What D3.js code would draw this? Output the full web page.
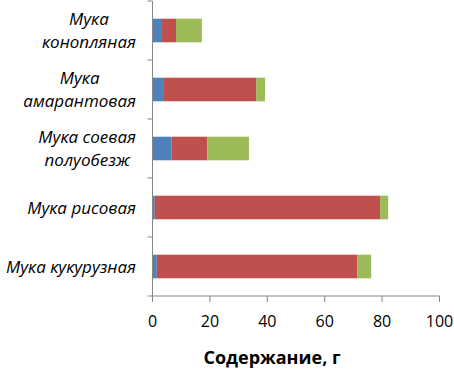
<!DOCTYPE html>
<html>
<head>
<meta charset="utf-8">
<script src="https://cdn.jsdelivr.net/npm/d3@7"></script>
<style>
  body { margin: 0; background: #fff; }
  .cat-label { font-family: 'Open Sans', sans-serif; font-style: italic; font-size: 17px; fill: #000; }
  .tick-label { font-family: 'Open Sans', sans-serif; font-size: 16px; fill: #000; }
  .axis-title { font-family: 'Open Sans', sans-serif; font-weight: bold; font-size: 18px; fill: #000; }
</style>
</head>
<body>
<div id="chart"></div>
<script>
const width = 454, height = 371;
const margin = { top: 1, bottom: 75, left: 152.5, right: 15 };

// categories listed top to bottom
const categories = [
    ['Мука', 'конопляная'],
    ['Мука', 'амарантовая'],
    ['Мука соевая', 'полуобезж'],
    ['Мука рисовая'],
    ['Мука кукурузная']
];
const seriesBlue  = [3.3, 3.7, 6.7, 0.8, 1.5];
const seriesRed   = [4.9, 32.4, 12.4, 78.5, 69.8];
const seriesGreen = [9.0, 3.1, 14.5, 2.8, 4.9];
const xTicks = [0, 20, 40, 60, 80, 100];
const colors = ['#4F81BD', '#C0504D', '#9BBB59'];
const axisTitle = 'Содержание, г';

const graph_width = 439.5 - margin.left;
const graph_height = 296 - margin.top;

const xScale = d3.scaleLinear().domain([0, 100]).range([0, graph_width]);
const yScale = d3.scaleBand().domain(d3.range(categories.length)).range([0, graph_height])
    .paddingInner(0.6).paddingOuter(0.3);

const rows = categories.map((c, i) => ({ i: i, b: seriesBlue[i], r: seriesRed[i], g: seriesGreen[i] }));
const stack = d3.stack().keys(['b', 'r', 'g'])(rows);

const svg = d3.select('#chart').append('svg')
    .attr('width', width).attr('height', height);

const plot = svg.append('g')
    .attr('transform', 'translate(' + margin.left + ',' + margin.top + ')');

stack.forEach((layer, k) => {
    plot.selectAll('.bar' + k)
        .data(layer)
        .enter()
        .append('rect')
        .attr('x', d => xScale(d[0]))
        .attr('width', d => xScale(d[1]) - xScale(d[0]))
        .attr('y', d => yScale(d.data.i))
        .attr('height', yScale.bandwidth())
        .attr('fill', colors[k]);
});

// axes
const axisColor = '#868686';
plot.append('line')
    .attr('x1', 0).attr('x2', 0).attr('y1', 0).attr('y2', graph_height)
    .attr('stroke', axisColor);
plot.append('line')
    .attr('x1', 0).attr('x2', graph_width).attr('y1', graph_height).attr('y2', graph_height)
    .attr('stroke', axisColor);

// category boundary ticks
const step = graph_height / categories.length;
d3.range(categories.length + 1).forEach(j => {
    plot.append('line')
        .attr('x1', -5).attr('x2', 0)
        .attr('y1', j * step).attr('y2', j * step)
        .attr('stroke', axisColor);
});

xTicks.forEach(t => {
    plot.append('line')
        .attr('x1', xScale(t)).attr('x2', xScale(t))
        .attr('y1', graph_height).attr('y2', graph_height + 6)
        .attr('stroke', axisColor);
    plot.append('text')
        .attr('class', 'tick-label')
        .attr('x', xScale(t))
        .attr('y', graph_height + 31)
        .attr('text-anchor', 'middle')
        .text(t);
});

// category labels
const labelRight = 136;
categories.forEach((lines, i) => {
    const cy = margin.top + yScale(i) + yScale.bandwidth() / 2;
    const g = svg.append('g');
    const texts = lines.map((ln, k) => g.append('text')
        .attr('class', 'cat-label')
        .attr('y', cy + 6 + (k - (lines.length - 1) / 2) * 23.5)
        .attr('text-anchor', 'middle')
        .text(ln));
    const maxW = d3.max(texts, t => t.node().getComputedTextLength());
    texts.forEach(t => t.attr('x', labelRight - maxW / 2));
});

svg.append('text')
    .attr('class', 'axis-title')
    .attr('x', 272)
    .attr('y', 364)
    .attr('text-anchor', 'middle')
    .text(axisTitle);
</script>
</body>
</html>
